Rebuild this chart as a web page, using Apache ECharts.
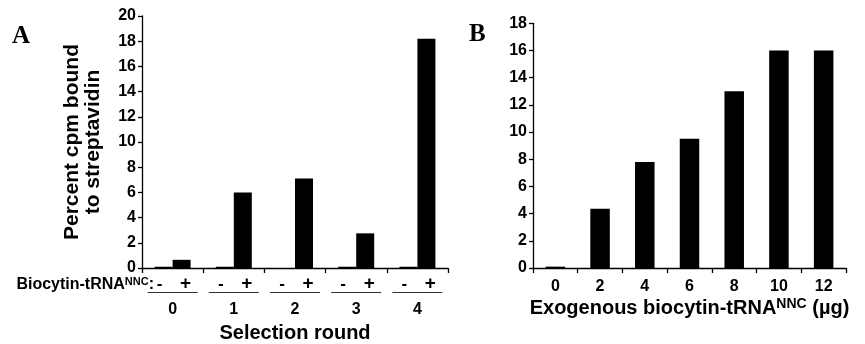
<!DOCTYPE html>
<html>
<head>
<meta charset="utf-8">
<script src="https://cdn.jsdelivr.net/npm/echarts@6/dist/echarts.min.js"></script>
<style>
  html, body { margin: 0; padding: 0; background: #fff; }
  #chart { width: 865px; height: 344px; }
</style>
</head>
<body>
<div id="chart"></div>
<script>
{
    // panel A data
    const rounds = ['0', '1', '2', '3', '4'];
    const minusValues = [0.1, 0.1, 0, 0.1, 0.1];
    const plusValues = [0.65, 6.0, 7.1, 2.75, 18.2];
    // panel B data
    const amounts = ['0', '2', '4', '6', '8', '10', '12'];
    const boundValues = [0.1, 4.35, 7.8, 9.5, 13.0, 16.0, 16.0];

    const FONT = '"Liberation Sans", Arial, sans-serif';
    const chart = echarts.init(document.getElementById('chart'));

    const yLabel = { color: '#000', fontFamily: FONT, fontWeight: 'bold', fontSize: 16, margin: 6 };
    const axisLine = { show: true, lineStyle: { color: '#000', width: 1.3 } };
    const axisTick = { show: true, length: 4, lineStyle: { color: '#000', width: 1.3 } };

    const option = {
        animation: false,
        grid: [
            { left: 142, top: 16, width: 306, bottom: 76, outerBoundsMode: 'none' },
            { left: 533, top: 23.3, width: 313, bottom: 76, outerBoundsMode: 'none' }
        ],
        graphic: [
            {
                type: 'text', left: 12, top: 24,
                style: { text: 'A', fontFamily: '"Liberation Serif", serif', fontWeight: 'bold', fontSize: 25, fill: '#000' }
            },
            {
                type: 'text', left: 469, top: 22,
                style: { text: 'B', fontFamily: '"Liberation Serif", serif', fontWeight: 'bold', fontSize: 25, fill: '#000' }
            },
            {
                type: 'text', right: 865 - 154, top: 276,
                style: {
                    text: 'Biocytin-tRNA{s|NNC}:',
                    fontFamily: FONT, fontWeight: 'bold', fontSize: 16, fill: '#000',
                    rich: { s: { fontFamily: FONT, fontWeight: 'bold', fontSize: 11, verticalAlign: 'top', padding: [0, 0, 6, 0] } }
                }
            }
        ],
        xAxis: [
            {
                gridIndex: 0, type: 'category', data: rounds,
                axisLine: axisLine,
                axisTick: { show: true, length: 5, lineStyle: { color: '#000', width: 1.3 } },
                name: 'Selection round', nameLocation: 'middle', nameGap: 55, nameMoveOverlap: false,
                nameTextStyle: { color: '#000', fontFamily: FONT, fontWeight: 'bold', fontSize: 20 },
                axisLabel: {
                    margin: 8, interval: 0, verticalAlign: 'top',
                    formatter: function (v) {
                        return '{m|-}{sp|}{p|+}\n{u|}\n{n|' + v + '}';
                    },
                    rich: {
                        m: { fontFamily: FONT, fontWeight: 'bold', fontSize: 17, width: 10, height: 16, align: 'center', lineHeight: 16, color: '#000' },
                        sp: { width: 16, height: 16, lineHeight: 16 },
                        p: { fontFamily: FONT, fontWeight: 'bold', fontSize: 19, width: 10, height: 16, align: 'center', lineHeight: 16, color: '#000' },
                        u: { width: 50, height: 1, backgroundColor: '#333', lineHeight: 1 },
                        n: { fontFamily: FONT, fontWeight: 'bold', fontSize: 16, height: 34, lineHeight: 34, color: '#000' }
                    }
                }
            },
            {
                gridIndex: 1, type: 'category', data: amounts,
                axisLine: axisLine,
                axisTick: { show: true, length: 5, lineStyle: { color: '#000', width: 1.3 } },
                axisLabel: { color: '#000', fontFamily: FONT, fontWeight: 'bold', fontSize: 16, margin: 11, interval: 0 },
                name: 'Exogenous biocytin-tRNA{s|NNC} (µg)', nameLocation: 'middle', nameGap: 29, nameMoveOverlap: false,
                nameTextStyle: {
                    color: '#000', fontFamily: FONT, fontWeight: 'bold', fontSize: 20,
                    rich: { s: { fontFamily: FONT, fontWeight: 'bold', fontSize: 14, verticalAlign: 'top', padding: [0, 0, 8, 0] } }
                }
            }
        ],
        yAxis: [
            {
                gridIndex: 0, type: 'value', min: 0, max: 20, interval: 2,
                axisLine: axisLine, axisTick: axisTick, axisLabel: yLabel,
                splitLine: { show: false },
                name: 'Percent cpm bound\nto streptavidin', nameLocation: 'middle', nameGap: 38,
                nameTextStyle: { color: '#000', fontFamily: FONT, fontWeight: 'bold', fontSize: 21, lineHeight: 21 }
            },
            {
                gridIndex: 1, type: 'value', min: 0, max: 18, interval: 2,
                axisLine: axisLine, axisTick: axisTick, axisLabel: yLabel,
                splitLine: { show: false }
            }
        ],
        series: [
            {
                name: '-', type: 'bar', xAxisIndex: 0, yAxisIndex: 0,
                data: minusValues, barWidth: 18, barGap: '0%',
                itemStyle: { color: '#000' }
            },
            {
                name: '+', type: 'bar', xAxisIndex: 0, yAxisIndex: 0,
                data: plusValues, barWidth: 18, barGap: '0%',
                itemStyle: { color: '#000' }
            },
            {
                name: 'B', type: 'bar', xAxisIndex: 1, yAxisIndex: 1,
                data: boundValues, barWidth: 19.5,
                itemStyle: { color: '#000' }
            }
        ]
    };

    chart.setOption(option);
}
</script>
</body>
</html>
